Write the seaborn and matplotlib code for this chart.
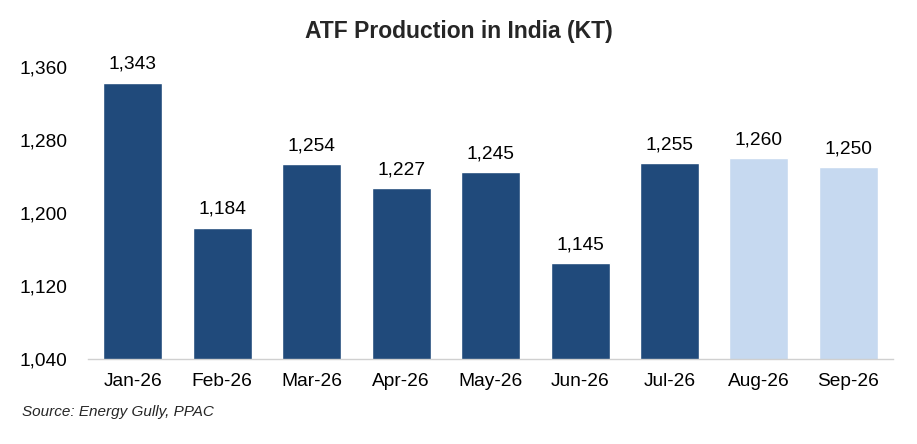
import matplotlib
matplotlib.use("Agg")
import matplotlib.pyplot as plt
import seaborn as sns
import pandas as pd
from matplotlib.ticker import FuncFormatter, FixedLocator

months = ["Jan-26", "Feb-26", "Mar-26", "Apr-26", "May-26", "Jun-26", "Jul-26", "Aug-26", "Sep-26"]
values = [1343, 1184, 1254, 1227, 1245, 1145, 1255, 1260, 1250]
kind = ["Actual"] * 7 + ["Forecast"] * 2
colors = {"Actual": "#204A7B", "Forecast": "#C6D9F0"}

sns.set_theme(style="white")
plt.rcParams['font.family'] = ['Liberation Sans', 'DejaVu Sans']

df = pd.DataFrame({"month": months, "value": values, "kind": kind})

fig = plt.figure(figsize=(9.17, 4.44), dpi=100)
ax = fig.add_axes([0.096, 0.1914, 0.878, 0.6577])
sns.barplot(data=df, x="month", y="value", hue="kind", palette=colors,
            dodge=False, width=0.66, legend=False, ax=ax, saturation=1)

ax.set_ylim(1040, 1360)
ax.set_yticks([1040, 1120, 1200, 1280, 1360])
ax.yaxis.set_major_formatter(FuncFormatter(lambda v, p: f"{int(v):,}"))
ax.set_xlim(-0.5, len(months) - 0.5)
ax.set_xlabel("")
ax.set_ylabel("")

for s in ["top", "right", "left"]:
    ax.spines[s].set_visible(False)
ax.spines["bottom"].set_color("#D0D0D0")
ax.spines["bottom"].set_linewidth(1)

ax.tick_params(axis="y", length=0, labelsize=13.8, pad=15, colors="black")
ax.tick_params(axis="x", which="major", length=0, labelsize=13.8, pad=10, colors="black")
ax.xaxis.set_minor_locator(FixedLocator([i - 0.5 for i in range(len(months) + 1)]))
ax.tick_params(axis="x", which="minor", length=5, color="#D0D0D0", width=1, direction="out")

for i, v in enumerate(values):
    ax.annotate(f"{v:,}", xy=(i, v), xytext=(0, 7), textcoords="offset points",
                ha="center", va="bottom", fontsize=13.8, color="black")

fig.text(0.5, 0.928, "ATF Production in India (KT)", ha="center", va="center",
         fontsize=16.5, fontweight="bold")
fig.text(0.024, 0.072, "Source: Energy Gully, PPAC", ha="left", va="center",
         fontsize=11, fontstyle="italic")

fig.savefig("out.png", dpi=100)
